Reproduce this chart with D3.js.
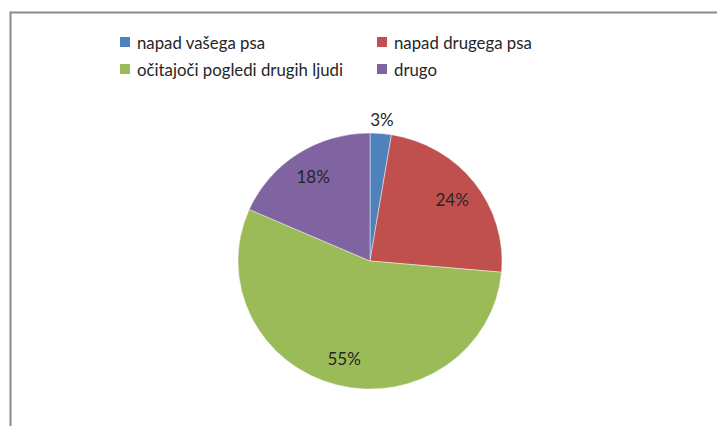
<!DOCTYPE html>
<html><head><meta charset="utf-8">
<script src="https://cdn.jsdelivr.net/npm/d3@7"></script>
<style>body{margin:0;background:#fff}svg{display:block}</style>
</head><body>
<svg id="c" width="717" height="426"></svg>
<script>
const categories = ["napad vašega psa", "napad drugega psa", "očitajoči pogledi drugih ljudi", "drugo"];
const values = [2.6, 23.8, 55.2, 18.4];
const labels = ["3%", "24%", "55%", "18%"];
const colors = ["#4F81BD", "#C0504D", "#9BBB59", "#8064A2"];

const svg = d3.select("#c");
const font = "Lato, 'Open Sans', sans-serif";
// frame
svg.append("path").attr("d", "M10.5,440 V12.5 H730").attr("fill", "none").attr("stroke", "#8a8a8a").attr("stroke-width", 2);

const cx = 370, cy = 261, r = 132;
const g = svg.append("g").attr("transform", `translate(${cx},${cy}) scale(1,0.97)`);
const pie = d3.pie().sort(null).value(d => d)(values);
const arc = d3.arc().innerRadius(0).outerRadius(r);
g.selectAll("path.s").data(pie).join("path").attr("class", "s")
  .attr("d", arc).attr("fill", (d, i) => colors[i]).attr("stroke", "#f4f4f4").attr("stroke-width", 0.5);

const inArc = d3.arc().innerRadius(104).outerRadius(104);
const outArc = d3.arc().innerRadius(146).outerRadius(146);
svg.append("g").attr("transform", `translate(${cx},${cy})`).selectAll("text").data(pie).join("text")
  .attr("x", d => (d.data < 5 ? outArc : inArc).centroid(d)[0])
  .attr("y", d => (d.data < 5 ? outArc : inArc).centroid(d)[1] * 0.97)
  .attr("text-anchor", "middle").attr("dominant-baseline", "central")
  .attr("font-family", font).attr("font-size", 17).attr("fill", "#262626")
  .text((d, i) => labels[i]);

// legend
const lx = [120, 377], ly = [42, 69];
const leg = svg.append("g");
categories.forEach((c, i) => {
  const x = lx[i % 2], y = ly[Math.floor(i / 2)];
  leg.append("rect").attr("x", x).attr("y", y - 5).attr("width", 10).attr("height", 10).attr("fill", colors[i]);
  leg.append("text").attr("x", x + 17).attr("y", y).attr("dominant-baseline", "central")
    .attr("font-family", font).attr("font-size", 16.8).attr("fill", "#262626").text(c);
});
</script>
</body></html>
